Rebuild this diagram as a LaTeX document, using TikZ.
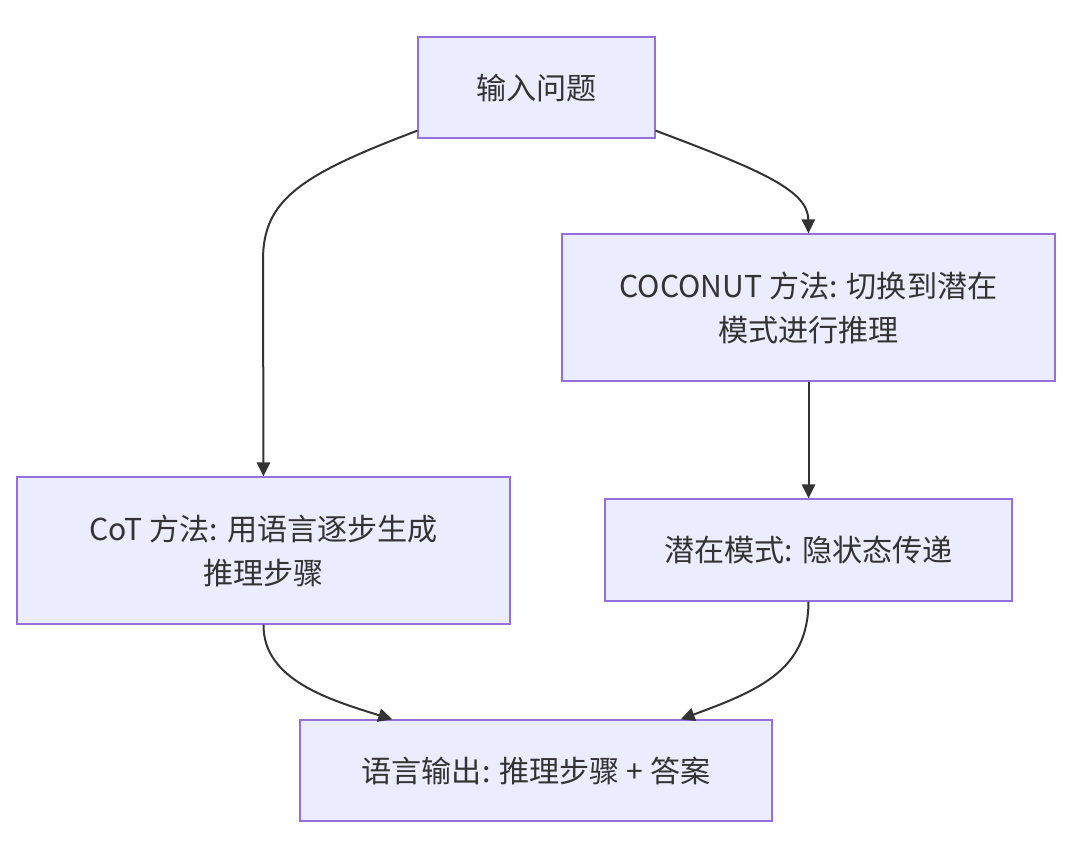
\documentclass[tikz,border=0pt]{standalone}
\usepackage{fontspec}
\setmainfont{Noto Sans CJK SC}
\usetikzlibrary{arrows.meta,positioning,calc}
\definecolor{boxfill}{HTML}{ECECFF}
\definecolor{boxline}{HTML}{9370DB}
\definecolor{ink}{HTML}{333333}

\begin{document}
\begin{tikzpicture}[x=0.75pt, y=-0.75pt, ->, >={Triangle[length=10.5pt,width=10pt]}, line width=1.5pt, color=ink]
\tikzstyle{box}=[draw=boxline, fill=boxfill, line width=1pt, text=ink, font=\fontsize{22.6}{33}\selectfont, align=center, inner sep=0pt]
\useasboundingbox (0,0) rectangle (1068,844);
\node[box, minimum width=177.75pt, minimum height=75.75pt]  (Q)      at (536.5,87.5)  {输入问题};
\node[box, minimum width=369.75pt, minimum height=110.25pt] (coco)   at (808.5,307.5) {COCONUT 方法: 切换到潜在\\模式进行推理};
\node[box, minimum width=369.75pt, minimum height=110.25pt] (cot)    at (263.5,550.5) {CoT 方法: 用语言逐步生成\\推理步骤};
\node[box, minimum width=305.25pt, minimum height=76.5pt]   (latent) at (808.5,550)   {潜在模式: 隐状态传递};
\node[box, minimum width=354pt,    minimum height=75.75pt]  (out)    at (536,770.5)   {语言输出: 推理步骤 + 答案};
% edges
\draw ($(Q.south west)+(0,-8)$) .. controls (300,175) and (263,200) .. (263,260) -- (cot.north);
\draw ($(Q.south east)+(0,-8)$) .. controls (760,170) and (808,190) .. (coco.north);
\draw (coco.south) -- (latent.north);
\draw (cot.south) .. controls (263,680) and (330,700) .. ($(out.north west)+(93,0)$);
\draw (latent.south) .. controls (808,670) and (760,690) .. ($(out.north east)+(-92,0)$);
\end{tikzpicture}
\end{document}
